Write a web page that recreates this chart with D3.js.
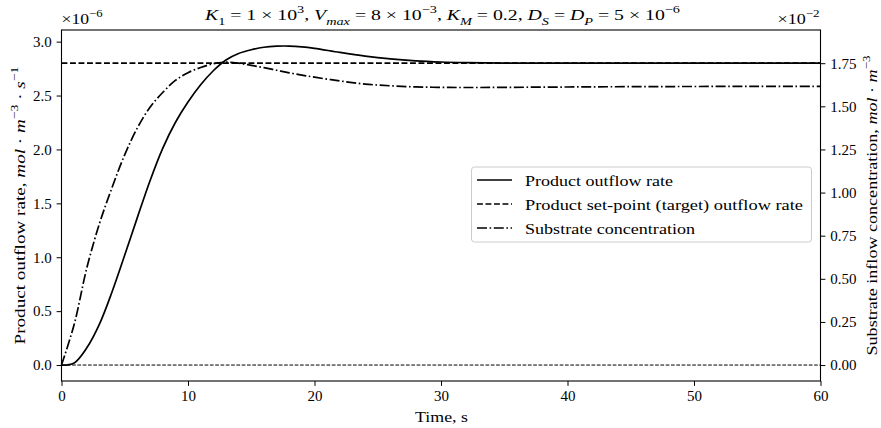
<!DOCTYPE html>
<html>
<head>
<meta charset="utf-8">
<script src="https://d3js.org/d3.v7.min.js"></script>
<style>
    body { margin: 0; background: #fff; }
    #chart-area { width: 881px; height: 428px; }
    text { font-family: "Liberation Serif", "Times New Roman", serif; fill: #000; }
</style>
</head>
<body>
<div id="chart-area"></div>
<script>

// time axis, seconds
let timeValues = [0, 1, 2, 3, 4, 5, 6, 7, 8, 9, 10, 11, 12, 13, 14, 15, 16, 17, 18, 19, 20,
    22, 24, 26, 28, 30, 32, 35, 40, 45, 50, 55, 60];

// product outflow rate (x1e-6)
let productRate = [0, 0.02, 0.16, 0.38, 0.68, 1.02, 1.37, 1.71, 2.01, 2.25, 2.44, 2.6, 2.73, 2.83, 2.89, 2.925, 2.948, 2.958, 2.959, 2.952, 2.938,
    2.9, 2.866, 2.84, 2.822, 2.811, 2.805, 2.801, 2.8, 2.8, 2.8, 2.8, 2.8];

// set-point (target) outflow rate (x1e-6)
let setPointRate = [2.8, 2.8];
let setPointTime = [0, 60];

// substrate inflow concentration (x1e-2)
let substrateConc = [0, 0.235, 0.5625, 0.82, 1.03, 1.22, 1.375, 1.495, 1.58, 1.65, 1.695, 1.725, 1.747, 1.756, 1.75, 1.7375, 1.724, 1.709, 1.694, 1.681, 1.669,
    1.647, 1.629, 1.619, 1.6125, 1.61, 1.609, 1.61, 1.612, 1.614, 1.615, 1.6155, 1.616];

let leftTicks = [0, 0.5, 1.0, 1.5, 2.0, 2.5, 3.0];
let rightTicks = [0, 0.25, 0.5, 0.75, 1.0, 1.25, 1.5, 1.75];
let timeTicks = [0, 10, 20, 30, 40, 50, 60];

let legendLabels = ["Product outflow rate", "Product set-point (target) outflow rate", "Substrate concentration"];
let legendWidths = [148, 278, 170];


class OutflowChart {

    constructor(parentElement) {
        this.parentElement = parentElement;
        this.initVis();
    }

    initVis() {
        let vis = this;

        vis.margin = {top: 30, right: 60.5, bottom: 47, left: 61.5};
        vis.width = 881 - vis.margin.left - vis.margin.right;
        vis.height = 428 - vis.margin.top - vis.margin.bottom;

        vis.svg = d3.select("#" + vis.parentElement).append("svg")
            .attr("width", 881)
            .attr("height", 428)
            .append("g")
            .attr("transform", `translate(${vis.margin.left}, ${vis.margin.top})`);

        // scales
        vis.x = d3.scaleLinear().domain([0, 60]).range([0, vis.width]);
        vis.yLeft = d3.scaleLinear().domain([-0.148, 3.108]).range([vis.height, 0]);
        vis.yRight = d3.scaleLinear().domain([-0.148 * 0.625, 3.108 * 0.625]).range([vis.height, 0]);

        vis.updateVis();
    }

    // text with italic / sub / superscript parts
    richText(sel, parts) {
        let shift = 0;
        parts.forEach(p => {
            let t = sel.append("tspan").text(p.t);
            if (p.i) t.attr("font-style", "italic");
            let target = p.sub ? 0.3 : (p.sup ? -0.45 : 0);
            if (p.sub || p.sup) t.attr("font-size", "0.72em");
            let em = p.sub || p.sup ? 0.72 : 1;
            // dy is relative to this tspan's own font size
            let dy = (target - shift) / em;
            if (dy !== 0) t.attr("dy", dy + "em");
            shift = target;
        });
    }

    updateVis() {
        let vis = this;

        // thin zero line
        vis.svg.append("line")
            .attr("x1", 0).attr("x2", vis.width)
            .attr("y1", vis.yLeft(0)).attr("y2", vis.yLeft(0))
            .attr("stroke", "#000").attr("stroke-width", 1)
            .attr("stroke-dasharray", "3.7,1.6");

        let productLine = d3.line()
            .x((d, i) => vis.x(timeValues[i]))
            .y(d => vis.yLeft(d))
            .curve(d3.curveCatmullRom.alpha(0.5));

        let substrateLine = d3.line()
            .x((d, i) => vis.x(timeValues[i]))
            .y(d => vis.yRight(d))
            .curve(d3.curveCatmullRom.alpha(0.5));

        let setLine = d3.line()
            .x((d, i) => vis.x(setPointTime[i]))
            .y(d => vis.yLeft(d));

        vis.svg.append("path")
            .datum(productRate)
            .attr("d", productLine)
            .attr("fill", "none").attr("stroke", "#000").attr("stroke-width", 1.7);

        vis.svg.append("path")
            .datum(setPointRate)
            .attr("d", setLine)
            .attr("fill", "none").attr("stroke", "#000").attr("stroke-width", 1.7)
            .attr("stroke-dasharray", "5.9,2.6");

        vis.svg.append("path")
            .datum(substrateConc)
            .attr("d", substrateLine)
            .attr("fill", "none").attr("stroke", "#000").attr("stroke-width", 1.7)
            .attr("stroke-dasharray", "10,2.6,1.6,2.6");

        // axes
        let xAxis = d3.axisBottom(vis.x).tickValues(timeTicks).tickFormat(d3.format("d"))
            .tickSizeInner(4.9).tickSizeOuter(0).tickPadding(4.9);
        let yAxisL = d3.axisLeft(vis.yLeft).tickValues(leftTicks).tickFormat(d3.format(".1f"))
            .tickSizeInner(4.9).tickSizeOuter(0).tickPadding(4.9);
        let yAxisR = d3.axisRight(vis.yRight).tickValues(rightTicks).tickFormat(d3.format(".2f"))
            .tickSizeInner(4.9).tickSizeOuter(0).tickPadding(4.9);

        vis.svg.append("g").attr("transform", `translate(0, ${vis.height})`).call(xAxis);
        vis.svg.append("g").call(yAxisL);
        vis.svg.append("g").attr("transform", `translate(${vis.width}, 0)`).call(yAxisR);

        vis.svg.selectAll(".tick text")
            .attr("font-family", "Liberation Serif").attr("font-size", 15);
        vis.svg.selectAll(".tick line").attr("stroke-width", 1);
        vis.svg.selectAll(".domain").remove();

        // frame
        vis.svg.append("rect")
            .attr("width", vis.width).attr("height", vis.height)
            .attr("fill", "none").attr("stroke", "#000").attr("stroke-width", 1.1);

        // offset texts
        let offL = vis.svg.append("text").attr("x", 0).attr("y", -6).attr("font-size", 15)
            .attr("textLength", 41).attr("lengthAdjust", "spacingAndGlyphs");
        vis.richText(offL, [{t: "×10"}, {t: "−6", sup: true}]);
        let offR = vis.svg.append("text").attr("x", vis.width - 43).attr("y", -6)
            .attr("font-size", 15).attr("textLength", 42).attr("lengthAdjust", "spacingAndGlyphs");
        vis.richText(offR, [{t: "×10"}, {t: "−2", sup: true}]);

        // title
        let title = vis.svg.append("text").attr("x", 205 - vis.margin.left).attr("y", -10)
            .attr("font-size", 15.5).attr("textLength", 475).attr("lengthAdjust", "spacingAndGlyphs");
        vis.richText(title, [
            {t: "K", i: true}, {t: "1", sub: true}, {t: " = 1 × 10"}, {t: "3", sup: true},
            {t: ", "}, {t: "V", i: true}, {t: "max", i: true, sub: true}, {t: " = 8 × 10"}, {t: "−3", sup: true},
            {t: ", "}, {t: "K", i: true}, {t: "M", i: true, sub: true}, {t: " = 0.2, "},
            {t: "D", i: true}, {t: "S", i: true, sub: true}, {t: " = "},
            {t: "D", i: true}, {t: "P", i: true, sub: true}, {t: " = 5 × 10"}, {t: "−6", sup: true}
        ]);

        // axis labels
        vis.svg.append("text")
            .attr("x", vis.width / 2 - 26).attr("y", vis.height + 41)
            .attr("font-size", 15).attr("textLength", 53).attr("lengthAdjust", "spacingAndGlyphs")
            .text("Time, s");

        let yl = vis.svg.append("text")
            .attr("transform", `translate(-37, ${vis.height / 2 + 139}) rotate(-90)`)
            .attr("font-size", 15).attr("textLength", 278).attr("lengthAdjust", "spacingAndGlyphs");
        vis.richText(yl, [
            {t: "Product outflow rate, "}, {t: "mol", i: true}, {t: " · "}, {t: "m", i: true},
            {t: "−3", sup: true}, {t: " · "}, {t: "s", i: true}, {t: "−1", sup: true}
        ]);

        let yr = vis.svg.append("text")
            .attr("transform", `translate(${vis.width + 56.5}, ${vis.height / 2 + 150}) rotate(-90)`)
            .attr("font-size", 15).attr("textLength", 300).attr("lengthAdjust", "spacingAndGlyphs");
        vis.richText(yr, [
            {t: "Substrate inflow concentration, "}, {t: "mol", i: true}, {t: " · "}, {t: "m", i: true},
            {t: "−3", sup: true}
        ]);

        // legend
        let lg = vis.svg.append("g").attr("transform", "translate(410, 137)");
        lg.append("rect")
            .attr("width", 340).attr("height", 75).attr("rx", 3)
            .attr("fill", "#fff").attr("fill-opacity", 0.8)
            .attr("stroke", "#ccc").attr("stroke-width", 1);

        let dashes = [null, "5.9,2.6", "10,2.6,1.6,2.6"];
        legendLabels.forEach((label, i) => {
            let y = 13 + i * 24;
            lg.append("line")
                .attr("x1", 5.5).attr("x2", 40.5).attr("y1", y).attr("y2", y)
                .attr("stroke", "#000").attr("stroke-width", 1.7)
                .attr("stroke-dasharray", dashes[i]);
            lg.append("text")
                .attr("x", 53.5).attr("y", y + 5.5)
                .attr("font-size", 15.5)
                .attr("textLength", legendWidths[i]).attr("lengthAdjust", "spacingAndGlyphs")
                .text(label);
        });
    }
}

new OutflowChart("chart-area");

</script>
</body>
</html>
